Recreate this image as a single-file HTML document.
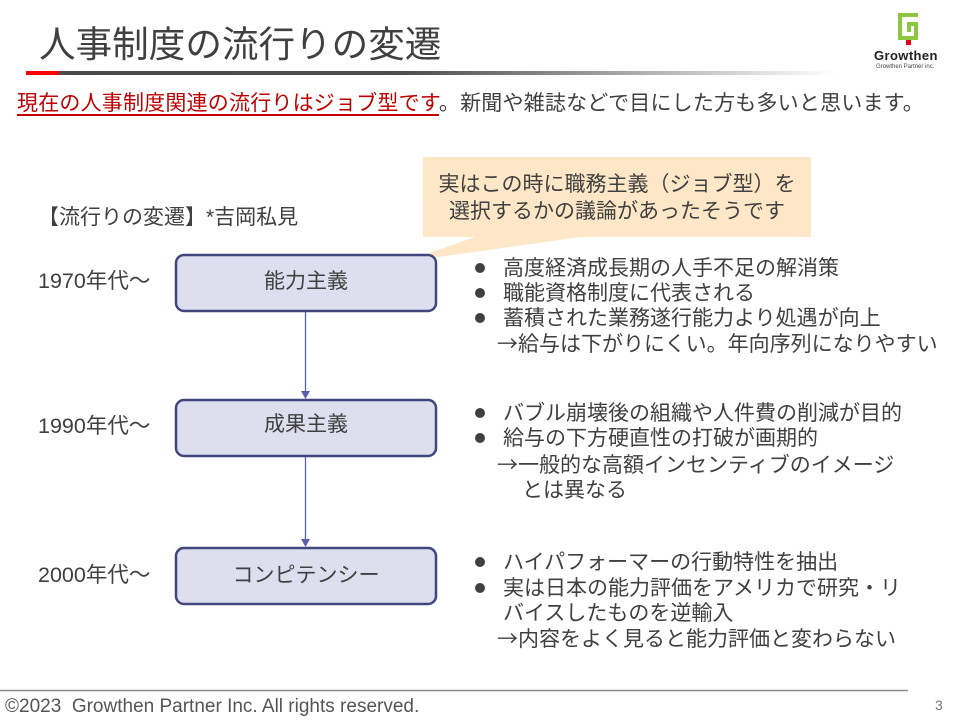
<!DOCTYPE html>
<html><head><meta charset="utf-8">
<style>
html,body{margin:0;padding:0;background:#fff;}
#p{position:relative;width:960px;height:720px;overflow:hidden;background:#fff;font-family:"Liberation Sans","Noto Sans CJK JP",sans-serif;color:#404040;}
.t{position:absolute;white-space:nowrap;}
.j{font-size:21px;line-height:25px;}
.a{font-family:"Noto Sans CJK JP",sans-serif;}
.dot{position:absolute;width:10px;height:10px;border-radius:50%;background:#404040;}
</style></head><body>
<div id="p">
<svg width="960" height="720" style="position:absolute;left:0;top:0">
  <defs>
    <linearGradient id="g" x1="0" x2="1" y1="0" y2="0">
      <stop offset="0" stop-color="#4a4a4a"/>
      <stop offset="0.45" stop-color="#4f4f4f"/>
      <stop offset="1" stop-color="#ffffff"/>
    </linearGradient>
  </defs>
  <rect x="26" y="71" width="33" height="4" fill="#ff0000"/>
  <rect x="59" y="71" width="778" height="4" fill="url(#g)"/>
  <!-- logo -->
  <path d="M898 13 H918 V17 H902 V36 H914 V26 H907 V22 H918 V40 H898 Z" fill="#8dc63f"/>
  <rect x="907" y="22" width="4" height="10" fill="#8dc63f"/>
  <rect x="906" y="40" width="5" height="5" fill="#e60012"/>
  <!-- callout -->
  <rect x="423" y="157" width="388" height="80" fill="#fde7c6"/>
  <polygon points="478,236 588,236 403,262" fill="#fde7c6"/>
  <!-- boxes -->
  <rect x="176" y="255" width="260" height="56" rx="8" ry="8" fill="#dedfee" stroke="#41467e" stroke-width="2.5"/>
  <rect x="176" y="400" width="260" height="56" rx="8" ry="8" fill="#dedfee" stroke="#41467e" stroke-width="2.5"/>
  <rect x="176" y="548" width="260" height="56" rx="8" ry="8" fill="#dedfee" stroke="#41467e" stroke-width="2.5"/>
  <!-- connectors -->
  <line x1="305.5" y1="312" x2="305.5" y2="392" stroke="#5a5fa8" stroke-width="1.3"/>
  <polygon points="301,391 310,391 305.5,399" fill="#5a5fa8"/>
  <line x1="305.5" y1="457" x2="305.5" y2="540" stroke="#5a5fa8" stroke-width="1.3"/>
  <polygon points="301,539 310,539 305.5,547" fill="#5a5fa8"/>
  <!-- footer line -->
  <line x1="0" y1="690.5" x2="908" y2="690.5" stroke="#8a8a8a" stroke-width="1.5"/>
</svg>

<div class="t" style="left:39px;top:22px;font-size:36.6px;line-height:46px;color:#404040;">人事制度の流行りの変遷</div>
<div class="t" style="left:874px;top:48px;font-size:13px;line-height:16px;font-weight:bold;color:#222;letter-spacing:0.4px;">Growthen</div>
<div class="t" style="left:876px;top:64px;font-size:6px;line-height:7px;color:#444;">Growthen Partner inc.</div>

<div class="t" style="left:17px;top:91px;font-size:21px;line-height:26px;letter-spacing:0.2px;"><span style="color:#c00000;text-decoration:underline;text-underline-offset:4px;">現在の人事制度関連の流行りはジョブ型です</span>。新聞や雑誌などで目にした方も多いと思います。</div>

<div class="t j" style="left:423px;top:172px;width:388px;text-align:center;">実はこの時に職務主義（ジョブ型）を</div>
<div class="t j" style="left:423px;top:199px;width:388px;text-align:center;">選択するかの議論があったそうです</div>

<div class="t j" style="left:38px;top:205px;">【流行りの変遷】*吉岡私見</div>
<div class="t j" style="left:38px;top:269px;font-size:21.5px;">1970年代〜</div>
<div class="t j" style="left:38px;top:414px;font-size:21.5px;">1990年代〜</div>
<div class="t j" style="left:38px;top:563px;font-size:21.5px;">2000年代〜</div>

<div class="t j" style="left:176px;top:269px;width:260px;text-align:center;">能力主義</div>
<div class="t j" style="left:176px;top:412px;width:260px;text-align:center;">成果主義</div>
<div class="t j" style="left:176px;top:563px;width:260px;text-align:center;">コンピテンシー</div>

<div class="dot" style="left:475px;top:263px"></div>
<div class="dot" style="left:475px;top:288px"></div>
<div class="dot" style="left:475px;top:313px"></div>
<div class="t j" style="left:503px;top:256px;">高度経済成長期の人手不足の解消策</div>
<div class="t j" style="left:503px;top:281px;">職能資格制度に代表される</div>
<div class="t j" style="left:503px;top:306px;">蓄積された業務遂行能力より処遇が向上</div>
<div class="t j" style="left:497px;top:331px;"><span class="a">→</span>給与は下がりにくい。年向序列になりやすい</div>

<div class="dot" style="left:475px;top:408px"></div>
<div class="dot" style="left:475px;top:433px"></div>
<div class="t j" style="left:503px;top:401px;">バブル崩壊後の組織や人件費の削減が目的</div>
<div class="t j" style="left:503px;top:426px;">給与の下方硬直性の打破が画期的</div>
<div class="t j" style="left:497px;top:452px;"><span class="a">→</span>一般的な高額インセンティブのイメージ</div>
<div class="t j" style="left:522px;top:478px;">とは異なる</div>

<div class="dot" style="left:475px;top:557px"></div>
<div class="dot" style="left:475px;top:583px"></div>
<div class="t j" style="left:503px;top:550px;">ハイパフォーマーの行動特性を抽出</div>
<div class="t j" style="left:503px;top:576px;">実は日本の能力評価をアメリカで研究・リ</div>
<div class="t j" style="left:503px;top:601px;">バイスしたものを逆輸入</div>
<div class="t j" style="left:497px;top:626px;"><span class="a">→</span>内容をよく見ると能力評価と変わらない</div>

<div class="t" style="left:5px;top:696px;font-size:19px;line-height:22px;color:#555;">©2023&nbsp; Growthen Partner Inc. All rights reserved.</div>
<div class="t" style="left:935px;top:697px;font-size:14px;line-height:16px;color:#777;">3</div>
</div>
</body></html>
